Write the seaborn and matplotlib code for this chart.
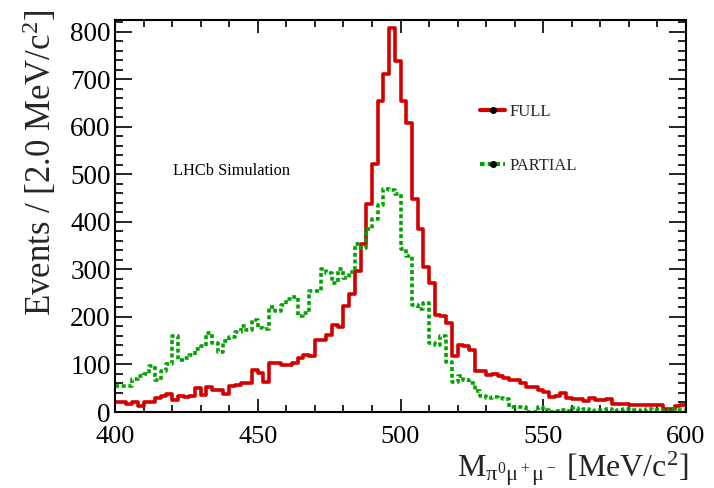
import numpy as np
import pandas as pd
import matplotlib
matplotlib.use("Agg")
import matplotlib.pyplot as plt
import seaborn as sns
from matplotlib.lines import Line2D
from matplotlib.ticker import MultipleLocator

# ---- data (2 MeV bins from 400 to 600) ----
bin_edges = list(range(400, 602, 2))

full_counts = [
    22, 20, 17, 20, 13, 22, 22, 30, 34, 38,
    25, 33, 32, 33, 50, 36, 52, 47, 47, 38,
    54, 56, 60, 62, 89, 82, 64, 103, 103, 98,
    99, 104, 114, 121, 117, 152, 152, 163, 184, 179,
    223, 248, 297, 353, 438, 521, 655, 711, 808, 739,
    655, 609, 449, 385, 306, 272, 205, 202, 188, 117,
    142, 138, 131, 87, 87, 78, 80, 75, 71, 68,
    68, 61, 52, 52, 47, 43, 31, 34, 41, 30,
    28, 27, 23, 30, 25, 25, 27, 16, 16, 16,
    15, 15, 14, 14, 14, 14, 7, 7, 12, 14,
]

partial_counts = [
    55, 54, 55, 70, 76, 80, 96, 68, 87, 100,
    159, 110, 114, 120, 133, 138, 166, 145, 126, 150,
    158, 168, 181, 172, 193, 176, 174, 221, 212, 225,
    238, 241, 202, 209, 255, 255, 300, 292, 272, 300,
    283, 295, 353, 345, 385, 406, 435, 470, 468, 459,
    343, 329, 226, 216, 230, 145, 140, 160, 105, 64,
    75, 68, 60, 45, 33, 29, 31, 30, 27, 11,
    10, 10, 1, 1, 10, 5, 1, 2, 5, 3,
    8, 4, 6, 3, 5, 4, 7, 3, 5, 6,
    4, 5, 3, 6, 4, 5, 3, 6, 4, 5,
]

series_names = ["FULL", "PARTIAL"]
x_label = r"M$_{\mathrm{π^0μ^+μ^-}}$ [MeV/c$^2$]"
y_label = r"Events / [2.0 MeV/c$^2$]"
annotation = "LHCb Simulation"

RED = "#d40000"
GREEN = "#00a300"

edges = np.array(bin_edges, dtype=float)
centers = (edges[:-1] + edges[1:]) / 2
df_full = pd.DataFrame({"mass": centers, "events": np.array(full_counts, dtype=float)})
df_part = pd.DataFrame({"mass": centers, "events": np.array(partial_counts, dtype=float)})

sns.set_theme(style="ticks")
plt.rcParams["font.family"] = ["Liberation Serif", "DejaVu Serif"]
plt.rcParams["mathtext.fontset"] = "custom"
plt.rcParams["mathtext.rm"] = "Liberation Serif"
plt.rcParams["mathtext.it"] = "Liberation Serif:italic"
plt.rcParams["mathtext.bf"] = "Liberation Serif:bold"

fig = plt.figure(figsize=(7.14, 4.88), dpi=100)
ax = fig.add_axes([115 / 714, 76 / 488, 571 / 714, 392 / 488])

green_dash = (0, (1.1, 0.75))

sns.histplot(data=df_full, x="mass", weights="events", bins=bin_edges,
             element="step", fill=False, color=RED, linewidth=2.6, ax=ax)
sns.histplot(data=df_part, x="mass", weights="events", bins=bin_edges,
             element="step", fill=False, color=GREEN, linewidth=2.6,
             linestyle=green_dash, ax=ax)

ax.set_xlim(400, 600)
ax.set_ylim(0, 825)
ax.xaxis.set_major_locator(MultipleLocator(50))
ax.xaxis.set_minor_locator(MultipleLocator(10))
ax.yaxis.set_major_locator(MultipleLocator(100))
ax.yaxis.set_minor_locator(MultipleLocator(20))
ax.tick_params(axis="both", which="both", direction="in", top=True, right=True,
               colors="black", width=1.2)
ax.tick_params(axis="x", which="major", length=9.5, labelsize=19, pad=10)
ax.tick_params(axis="x", which="minor", length=5)
ax.tick_params(axis="y", which="major", length=12, labelsize=19.5, pad=3)
ax.tick_params(axis="y", which="minor", length=5.5)
for sp in ax.spines.values():
    sp.set_linewidth(1.5)
    sp.set_color("black")

ax.set_xlabel(x_label, fontsize=23, ha="right")
ax.xaxis.set_label_coords((688 - 115) / 571, -0.095)
ax.set_ylabel(y_label, fontsize=25, ha="right")
ax.yaxis.set_label_coords(-0.098, 1.0255)

ax.text((173 - 115) / 571, (412 - 171) / 392, annotation, transform=ax.transAxes,
        fontsize=11.8, va="center", ha="left", color="black")

handles = [
    Line2D([0], [0], color=RED, lw=3, marker="o", mfc="black", mec="black", ms=4),
    Line2D([0], [0], color=GREEN, lw=3, linestyle=green_dash, marker="o",
           mfc="black", mec="black", ms=4),
]
ax.legend(handles, series_names, loc="upper left",
          bbox_to_anchor=(480 / 714, 1 - 104 / 488), bbox_transform=fig.transFigure,
          frameon=False, fontsize=12, handlelength=1.5, handletextpad=0.3,
          labelspacing=2.3, borderpad=0, borderaxespad=0)

fig.savefig("out.png", dpi=100)
